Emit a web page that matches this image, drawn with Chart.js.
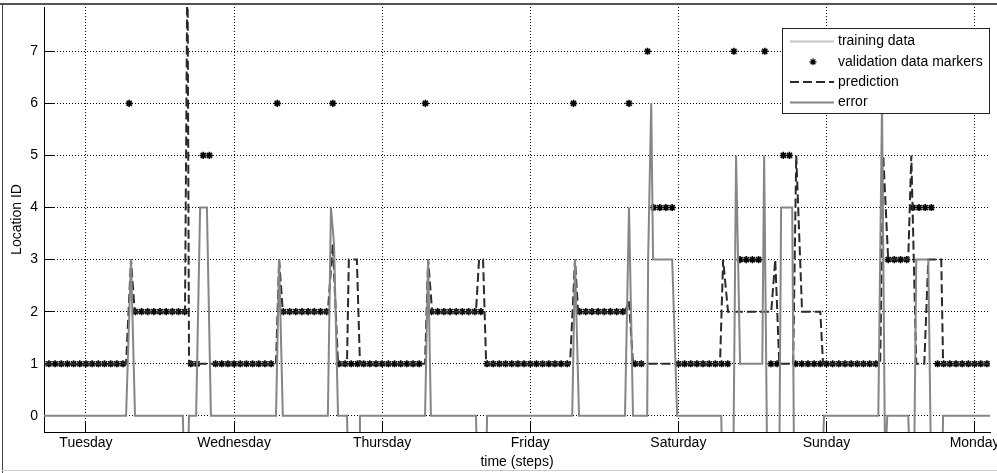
<!DOCTYPE html>
<html>
<head>
<meta charset="utf-8">
<title>Location ID prediction</title>
<script src="https://cdn.jsdelivr.net/npm/chart.js@4.4.0/dist/chart.umd.min.js"></script>
<style>
  html, body { margin: 0; padding: 0; background: #fff; }
  canvas { display: block; }
</style>
</head>
<body>
<canvas id="locChart" width="997" height="473"></canvas>
<script>
// x is time in hours, Tuesday 00:00 = 0
var dayTicks = [0, 24, 48, 72, 96, 120, 144];
var dayLabels = ["Tuesday", "Wednesday", "Thursday", "Friday", "Saturday", "Sunday", "Monday"];
var locationTicks = [0, 1, 2, 3, 4, 5, 6, 7];

// training data lies outside this window
var trainingX = [];
var trainingY = [];

// validation data, one sample per hour from validationStart
var validationStart = -7;
var validationY = [
  1, 1, 1, 1, 1, 1, 1,
  1, 1, 1, 1, 1, 1, 1, 6, 2, 2, 2, 2, 2, 2, 2, 2, 2, 1, 1, 5, 5, 1, 1, 1,
  1, 1, 1, 1, 1, 1, 1, 6, 2, 2, 2, 2, 2, 2, 2, 2, 6, 1, 1, 1, 1, 1, 1, 1,
  1, 1, 1, 1, 1, 1, 1, 6, 2, 2, 2, 2, 2, 2, 2, 2, 2, 1, 1, 1, 1, 1, 1, 1,
  1, 1, 1, 1, 1, 1, 1, 6, 2, 2, 2, 2, 2, 2, 2, 2, 6, 1, 1, 7, 4, 4, 4, 4,
  1, 1, 1, 1, 1, 1, 1, 1, 1, 7, 3, 3, 3, 3, 7, 1, 1, 5, 5, 1, 1, 1, 1, 1,
  1, 1, 1, 1, 1, 1, 1, 1, 1, 7, 3, 3, 3, 3, 4, 4, 4, 4, 1, 1, 1, 1, 1, 1,
  1, 1, 1
];

// prediction, read at its change points
var predictionX = [-6.8, 6.5, 7.3, 7.9, 16.05, 16.45, 16.7, 30.8, 31.3, 31.9, 39.2, 40.0, 40.85,
  42.3, 42.6, 43.9, 44.4, 54.95, 55.45, 56.1, 63.2, 63.7, 64.35, 64.85, 78.45, 79.25, 79.75,
  87.35, 88.0, 88.65, 102.75, 103.25, 104.05, 111.05, 111.7, 112.35, 114.6, 115.1, 116.05,
  119.0, 119.45, 128.7, 129.2, 130.0, 133.25, 133.75, 134.55, 135.85, 136.5, 138.6, 138.9, 146.5];
var predictionY = [1, 1, 3, 2, 2, 9, 1, 1, 3, 2, 2, 3.3, 1,
  1, 3, 3, 1, 1, 3, 2, 2, 3, 3, 1, 1, 3, 2,
  2, 2.2, 1, 1, 3, 2, 2, 3, 1, 1, 5, 2,
  2, 1, 1, 5, 3, 3, 5, 1, 1, 3, 3, 1, 1];

// error (validation - prediction), read at its change points
var errorX = [-6.8, 6.5, 7.3, 7.95, 15.7, 15.9, 16.5, 16.7, 17.85, 18.5, 19.6, 20.25, 30.8, 31.3, 31.9,
  39.2, 39.7, 40.2, 40.85, 42.3, 42.5, 44.25, 44.4, 54.95, 55.45, 55.9, 63.2, 63.4, 64.85, 65.0,
  78.8, 79.25, 79.9, 87.35, 88.0, 88.65, 90.95, 91.1, 91.6, 91.9, 95.0, 95.8, 102.95, 103.1,
  104.9, 105.35, 106.0, 109.6, 109.9, 110.4, 112.35, 112.65, 114.45, 114.75, 119.3, 119.6,
  128.4, 129.0, 129.5, 129.85, 133.25, 133.55, 134.2, 134.55, 136.5, 136.95, 138.75, 138.9, 146.5];
var errorY = [0, 0, 3, 0, 0, -1, -1, 0, 0, 4, 4, 0, 0, 3, 0,
  0, 4, 3.3, 0, 0, -1, -1, 0, 0, 3, 0, 0, -1, -1, 0,
  0, 3, 0, 0, 4, 0, 0, 3, 6, 3, 3, 0, 0, -1,
  -1, 5, 1, 1, 5, -1, -1, 4, 4, -1, -1, 0,
  0, 6, -1, 0, 0, -1, -1, 3, 3, -1, -1, 0, 0];

function toPoints(xs, ys) {
  return xs.map(function (x, i) { return { x: x, y: ys[i] }; });
}

var FONT = "'Liberation Sans', Arial, sans-serif";
Chart.defaults.font.family = FONT;
Chart.defaults.font.size = 14;
Chart.defaults.color = "#000";

// white page with the grey window frame
var framePlugin = {
  id: "frame",
  beforeDraw: function (chart) {
    var ctx = chart.ctx;
    ctx.save();
    ctx.fillStyle = "#fff";
    ctx.fillRect(0, 0, chart.width, chart.height);
    ctx.fillStyle = "#555";
    ctx.fillRect(0, 3, chart.width, 2);
    ctx.fillStyle = "#444";
    ctx.fillRect(2, 3, 1, chart.height - 3);
    ctx.fillStyle = "#ccc";
    ctx.fillRect(2, 470, chart.width, 1);
    ctx.restore();
  }
};

// boxed legend inside the top right corner of the plot
var boxLegendPlugin = {
  id: "boxLegend",
  afterDraw: function (chart) {
    var ctx = chart.ctx;
    var left = 782, top = 28, width = 207, height = 85, rowH = 20.3;
    ctx.save();
    ctx.fillStyle = "#fff";
    ctx.fillRect(left, top, width, height);
    ctx.strokeStyle = "#222";
    ctx.lineWidth = 1;
    ctx.strokeRect(left + 0.5, top + 0.5, width, height);
    chart.data.datasets.forEach(function (ds, i) {
      var y = top + 13.5 + i * rowH;
      ctx.beginPath();
      ctx.strokeStyle = ds.borderColor;
      if (ds.showLine === false) {
        // asterisk sample
        var r = 3.5, cx = 813;
        ctx.lineWidth = 1.2;
        ctx.moveTo(cx - r, y); ctx.lineTo(cx + r, y);
        ctx.moveTo(cx, y - r); ctx.lineTo(cx, y + r);
        ctx.moveTo(cx - r * 0.7, y - r * 0.7); ctx.lineTo(cx + r * 0.7, y + r * 0.7);
        ctx.moveTo(cx - r * 0.7, y + r * 0.7); ctx.lineTo(cx + r * 0.7, y - r * 0.7);
        ctx.stroke();
      } else {
        ctx.lineWidth = ds.borderWidth;
        ctx.setLineDash(ds.borderDash || []);
        ctx.moveTo(790, y);
        ctx.lineTo(834, y);
        ctx.stroke();
        ctx.setLineDash([]);
      }
      ctx.fillStyle = "#000";
      ctx.textBaseline = "middle";
      ctx.textAlign = "left";
      ctx.font = "14px " + FONT;
      ctx.fillText(ds.label, 838, y);
    });
    ctx.restore();
  }
};

var ctx = document.getElementById("locChart").getContext("2d");
var locChart = new Chart(ctx, {
  type: "line",
  data: {
    datasets: [
      {
        label: "training data",
        data: toPoints(trainingX, trainingY),
        borderColor: "#c4c4c4",
        borderWidth: 2,
        pointRadius: 0,
        order: 4
      },
      {
        label: "validation data markers",
        data: validationY.map(function (v, i) { return { x: validationStart + i, y: v }; }),
        showLine: false,
        pointStyle: "star",
        pointRadius: 3.6,
        pointBorderWidth: 1.6,
        borderColor: "#000",
        backgroundColor: "#000",
        order: 3
      },
      {
        label: "prediction",
        data: toPoints(predictionX, predictionY),
        borderColor: "#2a2a2a",
        borderWidth: 2,
        borderDash: [9, 4],
        pointRadius: 0,
        order: 2
      },
      {
        label: "error",
        data: toPoints(errorX, errorY),
        borderColor: "#868686",
        borderWidth: 2,
        pointRadius: 0,
        order: 1
      }
    ]
  },
  options: {
    responsive: false,
    animation: false,
    devicePixelRatio: 1,
    layout: { padding: { left: 0, right: 7, top: 7, bottom: 0 } },
    elements: { line: { tension: 0, fill: false } },
    plugins: {
      legend: { display: false },
      tooltip: { enabled: false }
    },
    scales: {
      x: {
        type: "linear",
        min: -6.8,
        max: 146.5,
        afterBuildTicks: function (scale) {
          scale.ticks = dayTicks.map(function (v) { return { value: v }; });
        },
        afterFit: function (scale) {
          scale.height = 41;
          scale.paddingLeft = 0;
          scale.paddingRight = 0;
        },
        ticks: {
          autoSkip: false,
          maxRotation: 0,
          padding: 13,
          callback: function (value) {
            return dayLabels[dayTicks.indexOf(value)];
          }
        },
        grid: { color: "#000", lineWidth: 1, tickLength: -10, tickColor: "#000" },
        border: { display: true, color: "#000", width: 1, dash: [1, 2] },
        title: { display: true, text: "time (steps)", padding: { top: 0, bottom: 2 } }
      },
      y: {
        type: "linear",
        min: -0.31,
        max: 7.85,
        afterBuildTicks: function (scale) {
          scale.ticks = locationTicks.map(function (v) { return { value: v }; });
        },
        afterFit: function (scale) {
          scale.width = 44;
          scale.paddingTop = 0;
          scale.paddingBottom = 0;
        },
        ticks: { padding: 16 },
        grid: { color: "#000", lineWidth: 1, tickLength: -10, tickColor: "#000" },
        border: { display: true, color: "#000", width: 1, dash: [1, 2] },
        title: { display: true, text: "Location ID", padding: { top: 9, bottom: 0 } }
      }
    }
  },
  plugins: [framePlugin, boxLegendPlugin]
});
</script>
</body>
</html>
